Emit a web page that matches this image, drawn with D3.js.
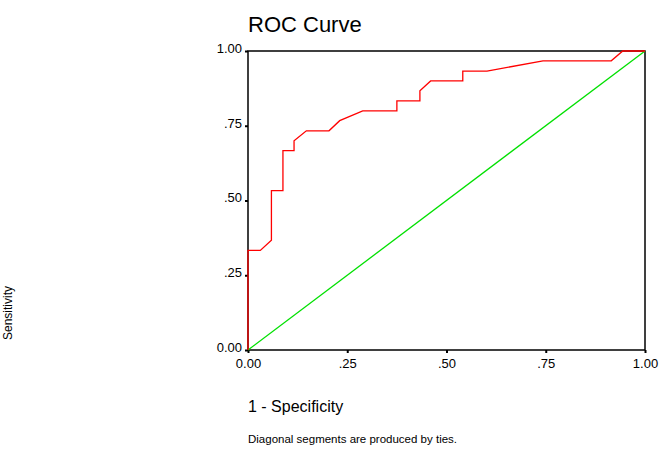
<!DOCTYPE html>
<html><head><meta charset="utf-8">
<script src="https://cdn.jsdelivr.net/npm/d3@7"></script>
<style>body{margin:0;background:#fff;font-family:Arial,"Liberation Sans",sans-serif}</style>
</head><body><div id="chart"></div>
<script>
// ROC points (1 - specificity, sensitivity)
var fpr = [0, 0, 0.031, 0.059, 0.059, 0.088, 0.088, 0.116, 0.116, 0.147, 0.204, 0.231, 0.289, 0.375, 0.375, 0.433, 0.433, 0.460, 0.541, 0.541, 0.602, 0.743, 0.915, 0.944, 1];
var tpr = [0, 0.333, 0.333, 0.367, 0.533, 0.533, 0.667, 0.667, 0.700, 0.733, 0.733, 0.767, 0.800, 0.800, 0.833, 0.833, 0.867, 0.900, 0.900, 0.933, 0.933, 0.967, 0.967, 1, 1];
var ticks = [0, 0.25, 0.5, 0.75, 1];
var tickLabels = ['0.00', '.25', '.50', '.75', '1.00'];

var width = 662, height = 449,
    margin = {top: 51, left: 248, right: 17, bottom: 99};

var svg = d3.select('#chart').append('svg')
    .attr('width', width).attr('height', height);

var x = d3.scaleLinear().domain([0, 1]).range([margin.left, width - margin.right]);
var y = d3.scaleLinear().domain([0, 1]).range([height - margin.bottom, margin.top]);

svg.append('text').attr('x', 248).attr('y', 32)
    .style('font-size', '22px').text('ROC Curve');

// frame
svg.append('rect')
    .attr('x', x(0)).attr('y', y(1))
    .attr('width', x(1) - x(0)).attr('height', y(0) - y(1))
    .attr('fill', 'none').attr('stroke', '#000').attr('stroke-width', 1.5);

var xAxis = svg.append('g')
    .attr('transform', 'translate(0,' + y(0) + ')')
    .call(d3.axisBottom(x).tickValues(ticks).tickSize(3)
        .tickFormat(function(d, i) { return tickLabels[i]; }));
var yAxis = svg.append('g')
    .attr('transform', 'translate(' + x(0) + ',0)')
    .call(d3.axisLeft(y).tickValues(ticks).tickSize(3)
        .tickFormat(function(d, i) { return tickLabels[i]; }));
[xAxis, yAxis].forEach(function(a) {
    a.select('.domain').remove();
    a.selectAll('line').attr('stroke-width', 2);
    a.selectAll('text').style('font-size', '13px')
        .style('font-family', 'Arial, "Liberation Sans", sans-serif').attr('fill', '#000');
});
xAxis.selectAll('text').attr('dy', '0.9em');
yAxis.selectAll('text').attr('dy', '0.1em');

// reference diagonal
svg.append('line')
    .attr('x1', x(0)).attr('y1', y(0)).attr('x2', x(1)).attr('y2', y(1))
    .attr('stroke', '#00e000').attr('stroke-width', 1.3);

var line = d3.line()
    .x(function(d, i) { return x(fpr[i]); })
    .y(function(d, i) { return y(tpr[i]); });
svg.append('path').datum(fpr)
    .attr('d', line).attr('fill', 'none')
    .attr('stroke', '#ff0000').attr('stroke-width', 1.3);

svg.append('text').attr('x', 248).attr('y', 412)
    .style('font-size', '16px').text('1 - Specificity');
svg.append('text').attr('x', 248).attr('y', 443)
    .style('font-size', '11.5px').text('Diagonal segments are produced by ties.');

// y title near the left edge
svg.append('text')
    .attr('transform', 'translate(12,313) rotate(-90)')
    .style('font-size', '12px').attr('text-anchor', 'middle').text('Sensitivity');
</script></body></html>
